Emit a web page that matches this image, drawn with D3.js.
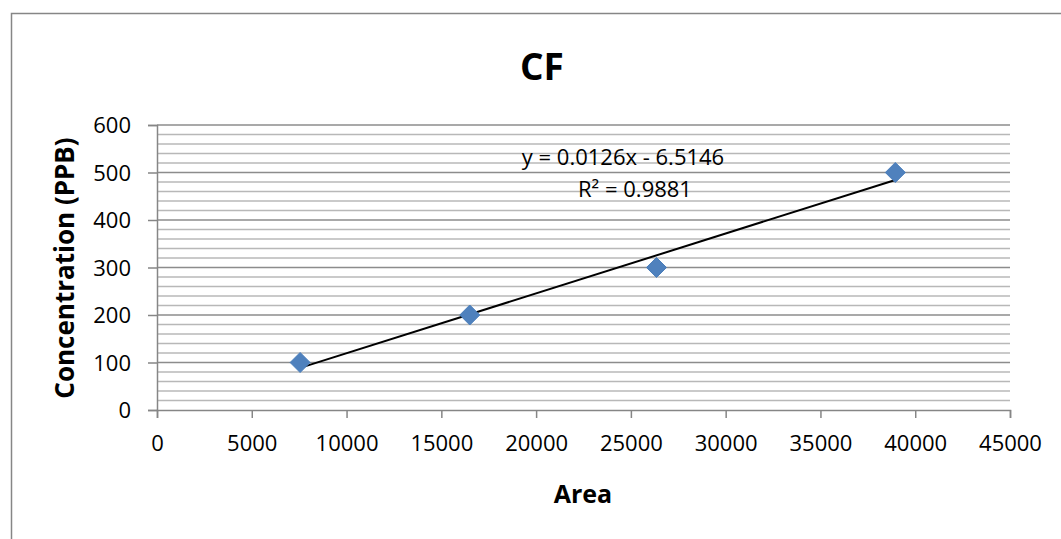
<!DOCTYPE html>
<html>
<head>
<meta charset="utf-8">
<script src="https://cdn.jsdelivr.net/npm/d3@7"></script>
<style>
  body { margin: 0; background: #fff; }
  text { font-family: "Open Sans", "DejaVu Sans", sans-serif; fill: #000; }
</style>
</head>
<body>
<svg width="1061" height="539"></svg>
<script>
// data
var areas = [7550, 16500, 26350, 38950];
var concentrations = [100, 200, 300, 500];
var xTickValues = [0, 5000, 10000, 15000, 20000, 25000, 30000, 35000, 40000, 45000];
var yTickValues = [0, 100, 200, 300, 400, 500, 600];
var equationLines = ["y = 0.0126x - 6.5146", "R\u00b2 = 0.9881"];

var svg = d3.select("svg");

// outer chart border
svg.append("rect")
    .attr("x", 11.5).attr("y", 13.5)
    .attr("width", 1070).attr("height", 560)
    .attr("fill", "#fff")
    .attr("stroke", "#868686")
    .attr("stroke-width", 1.5);

var x = d3.scaleLinear().domain([0, 45000]).range([157, 1010]);
var y = d3.scaleLinear().domain([0, 600]).range([410, 125]);

// minor gridlines every 20
var minor = d3.range(20, 600, 20).filter(function(v) { return v % 100 !== 0; });
svg.append("g").selectAll("line")
    .data(minor)
    .enter().append("line")
    .attr("x1", x(0)).attr("x2", x(45000))
    .attr("y1", function(d) { return y(d); })
    .attr("y2", function(d) { return y(d); })
    .attr("stroke", "#b8b8b8")
    .attr("stroke-width", 1.5);

// major gridlines
svg.append("g").selectAll("line")
    .data(yTickValues.filter(function(v) { return v > 0; }))
    .enter().append("line")
    .attr("x1", x(0)).attr("x2", x(45000))
    .attr("y1", function(d) { return y(d); })
    .attr("y2", function(d) { return y(d); })
    .attr("stroke", "#8c8c8c")
    .attr("stroke-width", 1.5);

// axes
var xAxis = svg.append("g")
    .attr("transform", "translate(0," + y(0) + ")")
    .call(d3.axisBottom(x).tickValues(xTickValues).tickSize(8).tickPadding(17).tickFormat(d3.format("d")));
var yAxis = svg.append("g")
    .attr("transform", "translate(" + x(0) + ",0)")
    .call(d3.axisLeft(y).tickValues(yTickValues).tickSize(9).tickPadding(17).tickFormat(d3.format("d")));

[xAxis, yAxis].forEach(function(a) {
    a.select(".domain").attr("stroke", "#868686").attr("stroke-width", 1.5);
    a.selectAll(".tick line").attr("stroke", "#868686").attr("stroke-width", 1.5);
    a.selectAll(".tick text")
        .style("font-family", '"Open Sans", sans-serif')
        .style("font-size", "22px")
        .attr("fill", "#000");
});
yAxis.selectAll(".tick text").attr("dy", "0.36em");

// linear trendline (least squares)
var mx = d3.mean(areas),
    my = d3.mean(concentrations),
    sxy = d3.sum(areas, function(v, i) { return (v - mx) * (concentrations[i] - my); }),
    sxx = d3.sum(areas, function(v) { return (v - mx) * (v - mx); }),
    slope = sxy / sxx,
    intercept = my - slope * mx,
    xr = d3.extent(areas);

svg.append("line")
    .attr("x1", x(xr[0])).attr("y1", y(slope * xr[0] + intercept))
    .attr("x2", x(xr[1])).attr("y2", y(slope * xr[1] + intercept))
    .attr("stroke", "#000")
    .attr("stroke-width", 2);

// markers
svg.append("g").selectAll("path")
    .data(areas)
    .enter().append("path")
    .attr("transform", function(d, i) { return "translate(" + x(d) + "," + y(concentrations[i]) + ")"; })
    .attr("d", "M0,-10L10,0L0,10L-10,0Z")
    .attr("fill", "#4f81bd")
    .attr("stroke", "#4a7ebb")
    .attr("stroke-width", 1);

// trendline label
svg.append("text")
    .attr("x", 623).attr("y", 165)
    .attr("text-anchor", "middle")
    .style("font-size", "22px")
    .text(equationLines[0]);
svg.append("text")
    .attr("x", 635).attr("y", 197)
    .attr("text-anchor", "middle")
    .style("font-size", "22px")
    .text(equationLines[1]);

// titles
svg.append("text")
    .attr("x", 542).attr("y", 80)
    .attr("text-anchor", "middle")
    .style("font-size", "37px")
    .style("font-weight", "bold")
    .text("CF");

svg.append("text")
    .attr("x", 583).attr("y", 503)
    .attr("text-anchor", "middle")
    .style("font-size", "25px")
    .style("font-weight", "bold")
    .text("Area");

svg.append("text")
    .attr("transform", "translate(74,268) rotate(-90)")
    .attr("text-anchor", "middle")
    .style("font-size", "26px")
    .style("font-weight", "bold")
    .text("Concentration (PPB)");
</script>
</body>
</html>
